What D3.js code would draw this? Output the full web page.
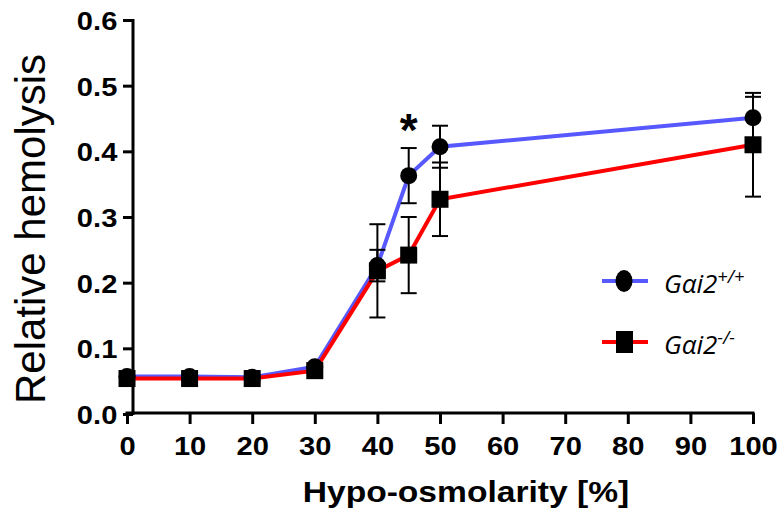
<!DOCTYPE html>
<html>
<head>
<meta charset="utf-8">
<script src="https://cdn.jsdelivr.net/npm/d3@7"></script>
<style>
  body { margin: 0; background: #fff; }
  svg { display: block; }
</style>
</head>
<body>
<div id="chart"></div>
<script>
// hypo-osmolarity levels and mean / sd per genotype
var levels = [0, 10, 20, 30, 40, 45, 50, 100];
var wt_mean = [0.057, 0.057, 0.056, 0.072, 0.226, 0.363, 0.407, 0.451];
var wt_sd   = [0.004, 0.004, 0.004, 0.005, 0.024, 0.042, 0.032, 0.032];
var ko_mean = [0.054, 0.054, 0.054, 0.066, 0.218, 0.242, 0.327, 0.410];
var ko_sd   = [0.004, 0.004, 0.004, 0.005, 0.071, 0.058, 0.056, 0.079];
var x_ticks = [0, 10, 20, 30, 40, 50, 60, 70, 80, 90, 100];
var y_ticks = [0, 0.1, 0.2, 0.3, 0.4, 0.5, 0.6];
var star_at = 45;

var width = 782, height = 514;
var STRETCH = 1.12;

var svg = d3.select('#chart').append('svg')
    .attr('width', width)
    .attr('height', height);

var x = d3.scaleLinear().domain([0, 100]).range([127, 753]);
var y = d3.scaleLinear().domain([0, 0.6]).range([414, 20]);

// axes
var xAxis = svg.append('g')
    .attr('transform', 'translate(0,413)')
    .call(d3.axisBottom(x).tickValues(x_ticks).tickSize(11).tickSizeOuter(0).tickPadding(12));
var yAxis = svg.append('g')
    .attr('transform', 'translate(133,0)')
    .call(d3.axisLeft(y).tickValues(y_ticks).tickSize(10).tickSizeOuter(0).tickPadding(4)
      .tickFormat(d3.format('.1f')));

[xAxis, yAxis].forEach(function(ax) {
  ax.select('.domain').attr('stroke', '#000').attr('stroke-width', 3);
  ax.selectAll('.tick line').attr('stroke', '#000').attr('stroke-width', 3);
  ax.selectAll('.tick text')
    .attr('fill', '#000')
    .attr('transform', 'scale(' + STRETCH + ',1)')
    .style('font-family', '"Liberation Sans", Arial, sans-serif')
    .style('font-weight', 'bold')
    .style('font-size', '26px');
});
xAxis.select('.domain').attr('d', 'M125.5,0H754.5');
yAxis.select('.domain').attr('d', 'M0,19V415');
yAxis.selectAll('.tick text').attr('dy', '0.36em');
xAxis.selectAll('.tick text').attr('dy', '0.75em');

// axis titles
svg.append('text')
    .attr('transform', 'translate(466,502) scale(' + STRETCH + ',1)')
    .attr('text-anchor', 'middle')
    .style('font-family', '"Liberation Sans", Arial, sans-serif')
    .style('font-weight', 'bold')
    .style('font-size', '30px')
    .text('Hypo-osmolarity [%]');

svg.append('text')
    .attr('transform', 'translate(45,229) rotate(-90)')
    .attr('text-anchor', 'middle')
    .style('font-family', '"Liberation Sans", Arial, sans-serif')
    .style('font-size', '42px')
    .text('Relative hemolysis');

function series(mean, sd) {
  return levels.map(function(l, i) { return {x: l, m: mean[i], s: sd[i]}; });
}
var wt = series(wt_mean, wt_sd);
var ko = series(ko_mean, ko_sd);

var line = d3.line().x(function(d) { return x(d.x); }).y(function(d) { return y(d.m); });

svg.append('path').datum(wt)
    .attr('d', line).attr('fill', 'none')
    .attr('stroke', '#5858ff').attr('stroke-width', 4);
svg.append('path').datum(ko)
    .attr('d', line).attr('fill', 'none')
    .attr('stroke', '#ff0000').attr('stroke-width', 4);

function error_bars(data) {
  var g = svg.append('g').attr('stroke', '#000').attr('stroke-width', 2);
  data.forEach(function(d) {
    var cx = x(d.x), lo = y(d.m - d.s), hi = y(d.m + d.s);
    g.append('line').attr('x1', cx).attr('x2', cx).attr('y1', lo).attr('y2', hi);
    g.append('line').attr('x1', cx - 8).attr('x2', cx + 8).attr('y1', lo).attr('y2', lo);
    g.append('line').attr('x1', cx - 8).attr('x2', cx + 8).attr('y1', hi).attr('y2', hi);
  });
}
error_bars(wt);
error_bars(ko);

svg.append('g').selectAll('circle').data(wt).enter().append('circle')
    .attr('cx', function(d) { return x(d.x); })
    .attr('cy', function(d) { return y(d.m); })
    .attr('r', 8.5).attr('fill', '#000');
svg.append('g').selectAll('rect').data(ko).enter().append('rect')
    .attr('x', function(d) { return x(d.x) - 8.5; })
    .attr('y', function(d) { return y(d.m) - 8.5; })
    .attr('width', 17).attr('height', 17).attr('fill', '#000');

// significance mark
svg.append('text')
    .attr('x', x(star_at)).attr('y', 146)
    .attr('text-anchor', 'middle')
    .style('font-family', '"Liberation Sans", Arial, sans-serif')
    .style('font-weight', 'bold')
    .style('font-size', '46px')
    .text('*');

// legend
var legend = [
  {color: '#5858ff', shape: 'circle', sup: '+/+', y: 281},
  {color: '#ff0000', shape: 'square', sup: '-/-', y: 342}
];
legend.forEach(function(l) {
  var g = svg.append('g');
  g.append('line').attr('x1', 602).attr('x2', 648).attr('y1', l.y).attr('y2', l.y)
      .attr('stroke', l.color).attr('stroke-width', 4);
  if (l.shape == 'circle') {
    g.append('ellipse').attr('cx', 624).attr('cy', l.y).attr('rx', 8.5).attr('ry', 11).attr('fill', '#000');
  } else {
    g.append('rect').attr('x', 616).attr('y', l.y - 11).attr('width', 17).attr('height', 22).attr('fill', '#000');
  }
  var t = g.append('text')
      .attr('x', 664).attr('y', l.y + 12)
      .style('font-family', '"Open Sans", sans-serif')
      .style('font-style', 'italic')
      .style('font-size', '26px');
  t.append('tspan').text('G\u03b1i2');
  t.append('tspan').attr('dy', -10).style('font-size', '18px').text(l.sup);
});
</script>
</body>
</html>
